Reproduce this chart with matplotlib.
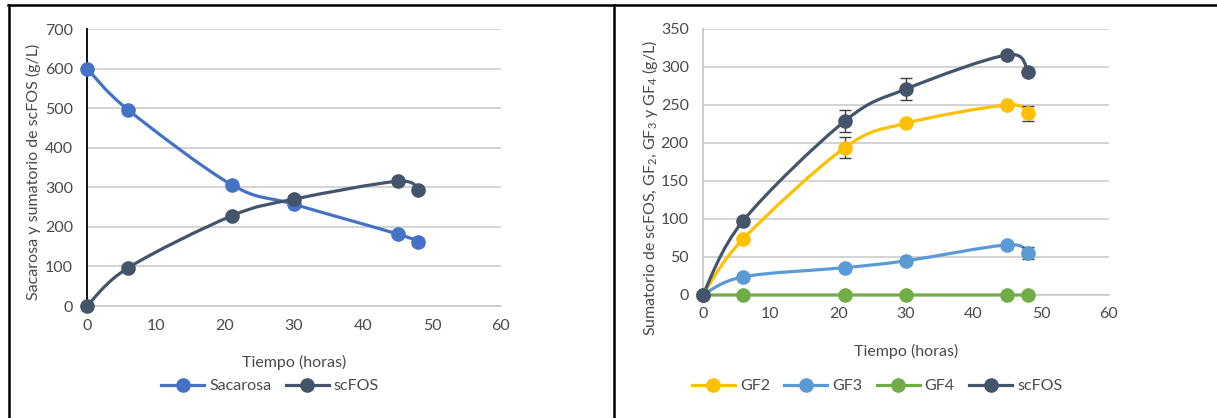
import numpy as np
import matplotlib
matplotlib.use("Agg")
import matplotlib.pyplot as plt
from matplotlib.path import Path
from matplotlib.patches import PathPatch
from matplotlib.lines import Line2D

plt.rcParams['font.family'] = ['Lato', 'DejaVu Sans']
plt.rcParams['mathtext.fontset'] = 'custom'
plt.rcParams['mathtext.rm'] = 'Lato'

# data
tiempo = [0, 6, 21, 30, 45, 48]

sacarosa = [600, 495, 306, 257, 182, 162]
sacarosa_err = [0, 0, 0, 6, 0, 10]
scfos_a = [0, 97, 228, 270, 315, 293]
scfos_a_err = [0, 0, 8, 8, 0, 0]

gf2 = [0, 74, 194, 226, 250, 239]
gf2_err = [0, 0, 14, 0, 0, 10]
gf3 = [0, 24, 36, 45, 66, 55]
gf3_err = [0, 0, 0, 3, 0, 8]
gf4 = [0, 0, 0, 0, 0, 0]
gf4_err = [0, 0, 0, 0, 0, 0]
scfos_b = [0, 98, 229, 271, 316, 294]
scfos_b_err = [0, 0, 15, 14, 0, 0]

GRID = '#c8c8c8'
TXT = '#4a4a4a'
FS = 11.5


def smooth_path(x, y):
    # Excel-style smoothed line: cubic bezier through each point
    pts = np.column_stack([x, y]).astype(float)
    n = len(pts)
    verts = [pts[0]]
    codes = [Path.MOVETO]
    for i in range(n - 1):
        p0 = pts[max(i - 1, 0)]
        p1 = pts[i]
        p2 = pts[i + 1]
        p3 = pts[min(i + 2, n - 1)]
        c1 = p1 + (p2 - p0) / 6.0
        c2 = p2 - (p3 - p1) / 6.0
        verts += [c1, c2, p2]
        codes += [Path.CURVE4] * 3
    return Path(verts, codes)


def draw_series(ax, x, y, err, color, label):
    ax.add_patch(PathPatch(smooth_path(x, y), fill=False, edgecolor=color,
                           lw=2.3, capstyle='round', zorder=3))
    ax.errorbar(x, y, yerr=err, fmt='none', ecolor='#404040', elinewidth=1,
                capsize=4, capthick=1, zorder=4)
    ax.plot(x, y, 'o', color=color, markersize=9.5, zorder=5)
    return Line2D([], [], color=color, lw=2.3, marker='o', markersize=9.5, label=label)


def style_axis(ax, ymax, ystep, left_color):
    ax.set_xlim(0, 60)
    ax.set_ylim(0, ymax)
    ax.set_xticks(range(0, 61, 10))
    ax.set_yticks(range(0, ymax + 1, ystep))
    ax.yaxis.grid(True, color=GRID, lw=1.1)
    ax.set_axisbelow(True)
    for s in ['top', 'right']:
        ax.spines[s].set_visible(False)
    ax.spines['bottom'].set_color(GRID)
    ax.spines['bottom'].set_linewidth(1.1)
    ax.spines['left'].set_color(left_color)
    ax.spines['left'].set_linewidth(1.3)
    ax.tick_params(length=0, labelsize=FS, labelcolor=TXT)
    ax.tick_params(axis='y', pad=10)
    ax.tick_params(axis='x', pad=9)


fig = plt.figure(figsize=(12.17, 4.18), dpi=100)
W, H = 1217.0, 418.0

ax1 = fig.add_axes([87 / W, 1 - 306 / H, 414 / W, 277 / H])
style_axis(ax1, 700, 100, '#000000')
h1 = [draw_series(ax1, tiempo, sacarosa, sacarosa_err, '#4472c4', 'Sacarosa'),
      draw_series(ax1, tiempo, scfos_a, scfos_a_err, '#44546a', 'scFOS')]
for art in ax1.patches + ax1.lines:
    art.set_clip_on(False)

ax2 = fig.add_axes([702.7 / W, 1 - 295 / H, 406.3 / W, 266 / H])
style_axis(ax2, 350, 50, GRID)
h2 = [draw_series(ax2, tiempo, gf2, gf2_err, '#ffc000', 'GF2'),
      draw_series(ax2, tiempo, gf3, gf3_err, '#5b9bd5', 'GF3'),
      draw_series(ax2, tiempo, gf4, gf4_err, '#70ad47', 'GF4'),
      draw_series(ax2, tiempo, scfos_b, scfos_b_err, '#44546a', 'scFOS')]
for art in ax2.patches + ax2.lines:
    art.set_clip_on(False)

# axis titles
fig.text(294 / W, 1 - 362 / H, 'Tiempo (horas)', ha='center', va='center', fontsize=FS, color=TXT)
fig.text(906 / W, 1 - 351 / H, 'Tiempo (horas)', ha='center', va='center', fontsize=FS, color=TXT)
fig.text(33 / W, 1 - 172 / H, 'Sacarosa y sumatorio de scFOS (g/L)', rotation=90,
         ha='center', va='center', fontsize=FS, color=TXT)
fig.text(650 / W, 1 - 188 / H,
         r'Sumatorio de scFOS, GF$_\mathregular{2}$, GF$_\mathregular{3}$ y GF$_\mathregular{4}$ (g/L)',
         rotation=90, ha='center', va='center', fontsize=FS, color=TXT)

# legends
leg_kw = dict(frameon=False, fontsize=FS, handlelength=2.7, handletextpad=0.3,
              columnspacing=0.9, loc='center', labelcolor=TXT)
fig.legend(handles=h1, ncol=2, bbox_to_anchor=(270 / W, 1 - 386 / H), **leg_kw)
fig.legend(handles=h2, ncol=4, bbox_to_anchor=(877 / W, 1 - 386 / H), **leg_kw)

# panel frames
for xs, ys in [([8 / W, 1.0], [1 - 5 / H, 1 - 5 / H]),
               ([8.5 / W, 8.5 / W], [1 - 5 / H, 0]),
               ([614 / W, 614 / W], [1 - 5 / H, 0])]:
    fig.add_artist(Line2D(xs, ys, color='black', lw=1.8, transform=fig.transFigure))

fig.savefig('out.png', dpi=100)
